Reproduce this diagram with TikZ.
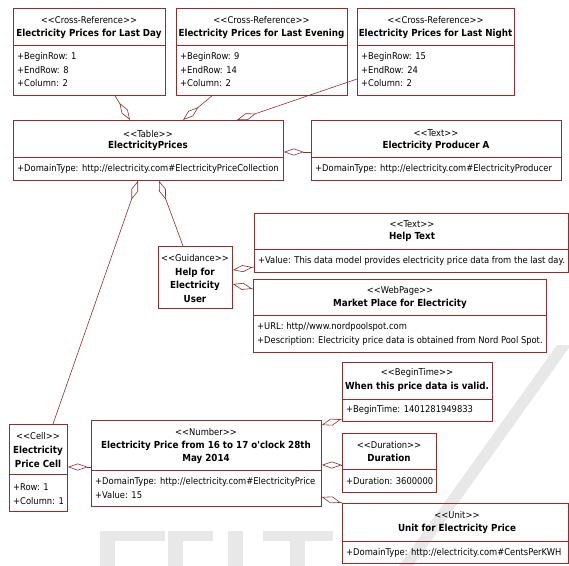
\documentclass[tikz,border=0pt]{standalone}
\usepackage{fontspec}
\newfontfamily\umlfont{DejaVu Sans Condensed}
\usetikzlibrary{arrows.meta}
\definecolor{uml}{RGB}{145,45,45}
\definecolor{wmark}{RGB}{232,232,232}
\newcommand\stL{<\kern0pt<}
\newcommand\stR{>\kern0pt>}
\begin{document}
\begin{tikzpicture}[x=1pt,y=-1pt,
 box/.style={draw=uml, line width=0.8pt, anchor=north west, inner sep=0pt},
 sep/.style={draw=uml, line width=0.8pt},
 st/.style={font=\umlfont\fontsize{9.3}{11}\selectfont, inner sep=0pt},
 ti/.style={font=\umlfont\bfseries\fontsize{9.7}{13.5}\selectfont, inner sep=0pt, align=center},
 attr/.style={font=\umlfont\fontsize{9.3}{11}\selectfont, inner sep=0pt, anchor=west},
 agg/.style={draw=uml, line width=0.6pt, {Diamond[open,length=20pt,width=7pt]}-},
 wm/.style={fill=wmark, draw=none}
]
\useasboundingbox (0,0) rectangle (569,565);
% faint background watermark
\begin{scope}
\clip (0,0) rectangle (569,565);
\fill[wm] (557,345) -- (571,345) -- (413,566) -- (399,566) -- cycle;
\fill[wm] (100,531) rectangle (165,541);
\fill[wm] (100,531) rectangle (115,566);
\fill[wm] (168,531) rectangle (213,541);
\fill[wm] (168,531) rectangle (183,566);
\fill[wm] (228,531) rectangle (243,566);
\fill[wm] (263,531) rectangle (333,541);
\fill[wm] (290,531) rectangle (305,566);
\end{scope}
% boxes
\node[box,minimum width=152pt,minimum height=87pt] (day) at (13,8) {};
\node[box,minimum width=171pt,minimum height=87pt] (eve) at (176,8) {};
\node[box,minimum width=157pt,minimum height=87pt] (night) at (357,8) {};
\node[box,minimum width=270pt,minimum height=60pt] (table) at (13,120) {};
\node[box,minimum width=250pt,minimum height=60pt] (prod) at (311,120) {};
\node[box,minimum width=74pt,minimum height=62pt] (guid) at (158,246) {};
\node[box,minimum width=314pt,minimum height=59pt] (help) at (254,213) {};
\node[box,minimum width=293pt,minimum height=73pt] (market) at (253,279) {};
\node[box,minimum width=58pt,minimum height=87pt] (cell) at (9,424) {};
\node[box,minimum width=230pt,minimum height=86pt] (num) at (91,420) {};
\node[box,minimum width=150pt,minimum height=59pt] (begin) at (342,362) {};
\node[box,minimum width=94pt,minimum height=59pt] (dur) at (342,433) {};
\node[box,minimum width=226pt,minimum height=60pt] (unit) at (342,503) {};
% dividers
\draw[sep] (day.west |- 0,45) -- (day.east |- 0,45);
\draw[sep] (eve.west |- 0,45) -- (eve.east |- 0,45);
\draw[sep] (night.west |- 0,45) -- (night.east |- 0,45);
\draw[sep] (table.west |- 0,157) -- (table.east |- 0,157);
\draw[sep] (prod.west |- 0,157) -- (prod.east |- 0,157);
\draw[sep] (help.west |- 0,249) -- (help.east |- 0,249);
\draw[sep] (market.west |- 0,315) -- (market.east |- 0,315);
\draw[sep] (cell.west |- 0,474) -- (cell.east |- 0,474);
\draw[sep] (num.west |- 0,470) -- (num.east |- 0,470);
\draw[sep] (begin.west |- 0,399) -- (begin.east |- 0,399);
\draw[sep] (dur.west |- 0,469) -- (dur.east |- 0,469);
\draw[sep] (unit.west |- 0,541) -- (unit.east |- 0,541);
% texts
\node[st] (dayS) at (89,20) {\stL Cross-Reference\stR};
\node[ti] (dayT) at (89,34) {Electricity Prices for Last Day};
\node[attr] (dayA1) at (17,57) {+BeginRow: 1};
\node[attr] (dayA2) at (17,70) {+EndRow: 8};
\node[attr] (dayA3) at (17,83) {+Column: 2};
\node[st] (eveS) at (261.5,20) {\stL Cross-Reference\stR};
\node[ti] (eveT) at (261.5,34) {Electricity Prices for Last Evening};
\node[attr] (eveA1) at (180,57) {+BeginRow: 9};
\node[attr] (eveA2) at (180,70) {+EndRow: 14};
\node[attr] (eveA3) at (180,83) {+Column: 2};
\node[st] (nightS) at (435.5,20) {\stL Cross-Reference\stR};
\node[ti] (nightT) at (435.5,34) {Electricity Prices for Last Night};
\node[attr] (nightA1) at (361,57) {+BeginRow: 15};
\node[attr] (nightA2) at (361,70) {+EndRow: 24};
\node[attr] (nightA3) at (361,83) {+Column: 2};
\node[st] (tableS) at (148,134) {\stL Table\stR};
\node[ti] (tableT) at (148,146) {ElectricityPrices};
\node[attr] (tableA1) at (17,169) {+DomainType: http://electricity.com\#ElectricityPriceCollection};
\node[st] (prodS) at (436,133) {\stL Text\stR};
\node[ti] (prodT) at (436,146) {Electricity Producer A};
\node[attr] (prodA1) at (315,169) {+DomainType: http://electricity.com\#ElectricityProducer};
\node[st] (guidS) at (195,258) {\stL Guidance\stR};
\node[ti] (guidT) at (195,285) {Help for\\Electricity\\User};
\node[st] (helpS) at (412,224) {\stL Text\stR};
\node[ti] (helpT) at (412,237) {Help Text};
\node[attr] (helpA1) at (258,261) {+Value: This data model provides electricity price data from the last day.};
\node[st] (marketS) at (400,291) {\stL WebPage\stR};
\node[ti] (marketT) at (400,304) {Market Place for Electricity};
\node[attr] (marketA1) at (257,327) {+URL: http//www.nordpoolspot.com};
\node[attr] (marketA2) at (257,341) {+Description: Electricity price data is obtained from Nord Pool Spot.};
\node[st] (cellS) at (38,436) {\stL Cell\stR};
\node[ti] (cellT) at (38,457) {Electricity\\Price Cell};
\node[attr] (cellA1) at (13,487) {+Row: 1};
\node[attr] (cellA2) at (13,501) {+Column: 1};
\node[st] (numS) at (206,432) {\stL Number\stR};
\node[ti] (numT) at (206,452.5) {Electricity Price from 16 to 17 o'clock 28th\\May 2014};
\node[attr] (numA1) at (95,482) {+DomainType: http://electricity.com\#ElectricityPrice};
\node[attr] (numA2) at (95,495) {+Value: 15};
\node[st] (beginS) at (417,373) {\stL BeginTime\stR};
\node[ti] (beginT) at (417,387) {When this price data is valid.};
\node[attr] (beginA1) at (346,410) {+BeginTime: 1401281949833};
\node[st] (durS) at (389,445) {\stL Duration\stR};
\node[ti] (durT) at (389,458) {Duration};
\node[attr] (durA1) at (346,481) {+Duration: 3600000};
\node[st] (unitS) at (457,515) {\stL Unit\stR};
\node[ti] (unitT) at (457,529) {Unit for Electricity Price};
\node[attr] (unitA1) at (346,553) {+DomainType: http://electricity.com\#CentsPerKWH};
% connectors (diamond at the aggregate)
\draw[agg] ([xshift=117pt]table.north west) -- ([xshift=102pt]day.south west);
\draw[agg] ([xshift=170pt]table.north west) -- ([xshift=36pt]eve.south west);
\draw[agg] ([xshift=224pt]table.north west) -- ([yshift=-71pt]night.north west);
\draw[agg] ([yshift=-32pt]table.north east) -- ([yshift=-32pt]prod.north west);
\draw[agg] ([xshift=125pt]table.south west) -- ([xshift=44pt]cell.north west);
\draw[agg] ([xshift=146pt]table.south west) -- ([xshift=25pt]guid.north west);
\draw[agg] ([yshift=-24pt]guid.north east) -- ([yshift=-54pt]help.north west);
\draw[agg] ([yshift=-38pt]guid.north east) -- ([yshift=-10pt]market.north west);
\draw[agg] ([yshift=-43pt]cell.north east) -- ([yshift=-47pt]num.north west);
\draw[agg] ([yshift=-5pt]num.north east) -- ([yshift=-57pt]begin.north west);
\draw[agg] ([yshift=-45pt]num.north east) -- ([yshift=-32pt]dur.north west);
\draw[agg] ([yshift=-77pt]num.north east) -- (unit.north west);
\end{tikzpicture}
\end{document}
